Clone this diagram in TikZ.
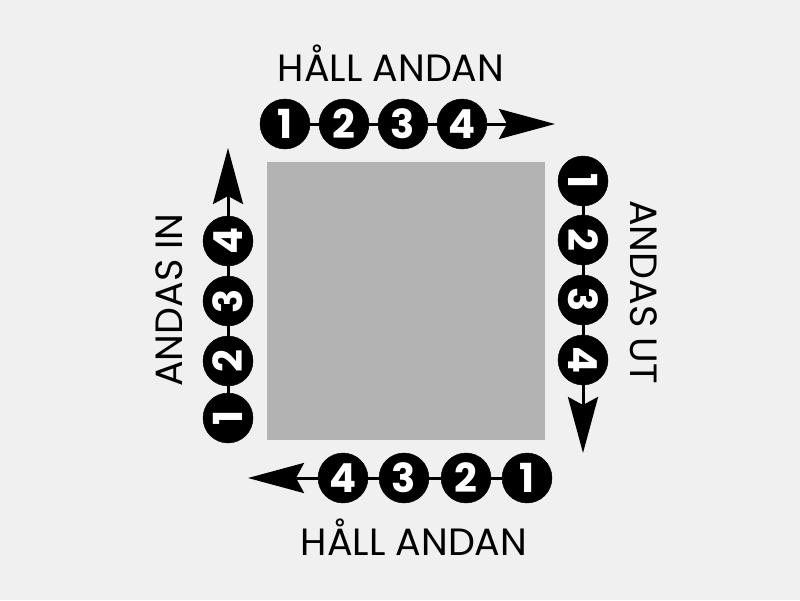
\documentclass[tikz,border=0pt]{standalone}
\usepackage{fontspec}
\setmainfont{Poppins}
\usepackage{xcolor}
\usepackage{tikz}
\usetikzlibrary{arrows.meta}

\definecolor{paper}{HTML}{F0F0F0}
\definecolor{square}{HTML}{B3B3B3}

\tikzset{
  count/.style={circle, fill=black, draw=black, minimum size=50pt, inner sep=0pt,
    text=white, font=\fontsize{40}{40}\selectfont\bfseries},
  link/.style={black, line width=3pt},
  flow/.style={link, -{Stealth[length=56pt, width=30pt, inset=8pt]}},
  phase/.style={font=\fontsize{38}{38}\selectfont, text=black}
}

\begin{document}
\begin{tikzpicture}[x=1pt, y=-1pt]
  \fill[paper] (0,0) rectangle (800,600);
  \useasboundingbox (0,0) rectangle (800,600);

  % the square in the middle
  \fill[square] (267,162) rectangle (545,440);

  % top row: hold
  \foreach \n/\x in {1/285, 2/344, 3/403, 4/462} {
    \node[count] (t\n) at (\x,124) {\n};
  }
  \coordinate (ttip) at (555,124);
  \draw[link] (t1) -- (t2) (t2) -- (t3) (t3) -- (t4);
  \draw[flow] (t4) -- (ttip);
  \node[phase] (ttext) at (391,63) {HÅLL ANDAN};

  % right column: breathe out
  \foreach \n/\y in {1/181, 2/240, 3/300, 4/360} {
    \node[count, rotate=-90] (r\n) at (583,\y) {\n};
  }
  \coordinate (rtip) at (583,453);
  \draw[link] (r1) -- (r2) (r2) -- (r3) (r3) -- (r4);
  \draw[flow] (r4) -- (rtip);
  \node[phase, rotate=-90] (rtext) at (644,292) {ANDAS UT};

  % bottom row: hold
  \foreach \n/\x in {1/527, 2/466, 3/404, 4/343} {
    \node[count] (b\n) at (\x,478) {\n};
  }
  \coordinate (btip) at (248,478);
  \draw[link] (b1) -- (b2) (b2) -- (b3) (b3) -- (b4);
  \draw[flow] (b4) -- (btip);
  \node[phase] (btext) at (414,537) {HÅLL ANDAN};

  % left column: breathe in
  \foreach \n/\y in {1/418, 2/361, 3/301, 4/241} {
    \node[count, rotate=90] (l\n) at (228,\y) {\n};
  }
  \coordinate (ltip) at (228,148);
  \draw[link] (l1) -- (l2) (l2) -- (l3) (l3) -- (l4);
  \draw[flow] (l4) -- (ltip);
  \node[phase, rotate=90] (ltext) at (169,300) {ANDAS IN};
\end{tikzpicture}
\end{document}
